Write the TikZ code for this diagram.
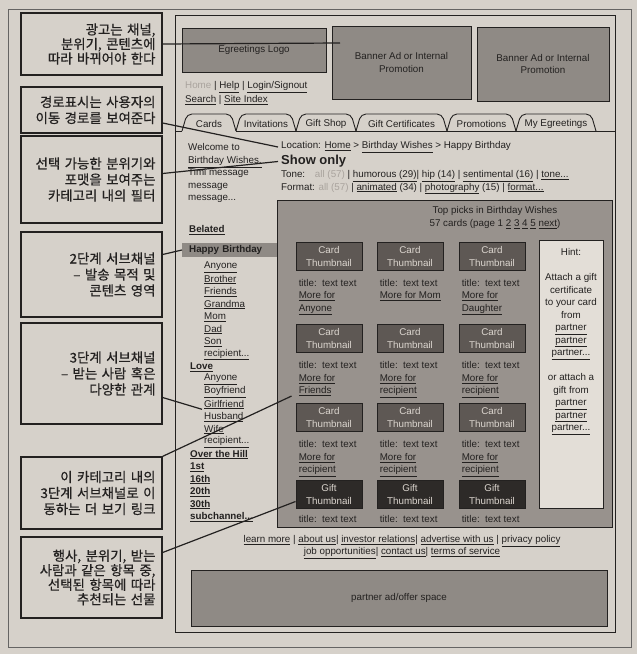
\documentclass[tikz,border=0pt]{standalone}
\usepackage{fontspec}
\setmainfont{Liberation Sans}
\newfontfamily\kr[FakeBold=0.6]{Noto Sans CJK KR}
\usepackage{xcolor}
\definecolor{paper}{HTML}{D6D1CA}
\definecolor{boxgray}{HTML}{8F8A85}
\definecolor{areagray}{HTML}{98928D}
\definecolor{thumbgray}{HTML}{5E5854}
\definecolor{giftgray}{HTML}{2D2A28}
\definecolor{thumbtext}{HTML}{DCD6CF}
\definecolor{hintfill}{HTML}{E3DED7}
\definecolor{ink}{HTML}{232120}
\definecolor{softgray}{HTML}{A9A39D}
\newcommand{\lk}[1]{\underline{#1}}
\newcommand{\mydots}{...}

\begin{document}
\begin{tikzpicture}[x=1pt,y=-1pt,
      every node/.style={text=ink, font=\fontsize{9.8}{12.5}\selectfont},
      txt/.style={inner sep=0pt, anchor=west},
      lines/.style={inner sep=0pt, anchor=north west, align=left},
      hd/.style={font=\fontsize{9.8}{12.5}\selectfont\bfseries},
      callout/.style={draw=ink, line width=1.3pt, fill=paper, align=right,
        minimum width=141pt, text width=128pt, inner xsep=6.5pt,
        font=\kr\fontsize{13.4}{16}\selectfont},
      gbox/.style={draw=ink, line width=0.9pt, fill=boxgray, align=center},
      thumb/.style={draw=ink, line width=0.9pt, fill=thumbgray, text=thumbtext,
        minimum width=66pt, minimum height=28pt, inner sep=0pt, align=center,
        font=\fontsize{9.8}{13}\selectfont},
      tab/.style={draw=ink, line width=0.9pt, rounded corners=5pt},
      conn/.style={draw=ink, line width=1.2pt}]
      \fill[paper] (0,0) rectangle (637,654);
      \useasboundingbox (0,0) rectangle (637,654);
      \draw[ink!70, line width=0.6pt] (8,9) rectangle (631,647);
      \draw[ink, line width=1pt] (175,15) rectangle (615,632);

      % header
      \node[gbox, minimum width=144pt, minimum height=44pt] (logo) at (254,50) {Egreetings Logo};
      \node[gbox, minimum width=139pt, minimum height=73pt] (ban1) at (401.5,62.5) {Banner Ad or Internal\\Promotion};
      \node[gbox, minimum width=132pt, minimum height=74pt] (ban2) at (543,64) {Banner Ad or Internal\\Promotion};
      \coordinate (ban1in) at (340,43);
      \node[txt] (toplinks) at (185,87) {{\color{softgray}Home} | \lk{Help} | \lk{Login/Signout}};
      \node[txt] (sitelinks) at (185,100) {\lk{Search} | \lk{Site Index}};

      % tabs
      \draw[ink, line width=0.9pt] (175,131) -- (182,131) (236,131) -- (615,131);
      \foreach \a/\b/\t [count=\i] in {182/236/Cards,236/296/Invitations,296/356/Gift Shop,
          356/447/Gift Certificates,447/516/Promotions,516/596/My Egreetings}{
        \draw[tab] (\a,131) -- (\a+5,114) -- (\b-5,114) -- (\b,131);
        \node (tab\i) at ({(\a+\b)/2},124) {\t};
      }

      % left column
      \node[lines] (welcome) at (188,143.5) {Welcome to\\\lk{Birthday Wishes.}\\Timi message\\message\\message\mydots};
      \node[txt, hd] (belated) at (189,230) {\lk{Belated}};
      \node[hd, fill=boxgray, anchor=west, align=left, inner xsep=7pt, inner ysep=0pt,
        minimum height=14pt, text width=81pt] (hbirth) at (182,250) {Happy Birthday};
      \foreach \t [count=\i] in {Anyone,Brother,Friends,Grandma,Mom,Dad,Son,recipient\mydots}
        \node[txt] (hb\i) at (204,{267+12.5*(\i-1)}) {\lk{\t}};
      \node[txt, hd] (love) at (190,367) {\lk{Love}};
      \foreach \t [count=\i] in {Anyone,Boyfriend,Girlfriend,Husband,Wife,recipient\mydots}
        \node[txt] (lv\i) at (204,{379.5+12.5*(\i-1)}) {\lk{\t}};
      \node[txt, hd] (hill) at (190,454.5) {\lk{Over the Hill}};
      \foreach \t [count=\i] in {1st,16th,20th,30th,subchannel\mydots}
        \node[txt, hd] (oh\i) at (190,{467+12.5*(\i-1)}) {\lk{\t}};

      % filters
      \node[txt] (loc) at (281,147) {Location: \lk{Home} > \lk{Birthday Wishes} > Happy Birthday};
      \node[txt, font=\fontsize{13}{15}\selectfont\bfseries] (show) at (281,161.5) {Show only};
      \node[txt] (tone) at (281,176) {Tone:\quad{\color{softgray}all (57)} | \lk{humorous (29)}|\ \lk{hip (14)} | \lk{sentimental (16)} | \lk{tone\mydots}};
      \node[txt] (format) at (281,188.5) {Format: {\color{softgray}all (57)} | \lk{animated} (34) | \lk{photography} (15) | \lk{format\mydots}};

      % top picks
      \node[gbox, fill=areagray, minimum width=335pt, minimum height=327pt] (area) at (444.5,363.5) {};
      \node[align=center, inner sep=0pt, font=\fontsize{9.8}{13}\selectfont] (picks) at (495,217.5)
        {Top picks in Birthday Wishes\\57 cards (page 1 \lk{2} \lk{3} \lk{4} \lk{5} \lk{next})};
      \foreach \y [count=\r] in {256,338.5,417.5}
        \foreach \x [count=\c] in {329,410,492}
          \node[thumb] (t\r\c) at (\x,\y) {Card\\Thumbnail};
      \foreach \x [count=\c] in {329,410,492}
        \node[thumb, fill=giftgray] (g\c) at (\x,494.5) {Gift\\Thumbnail};
      \foreach \r/\c/\m in {1/1/Anyone,1/3/Daughter,2/1/Friends,2/2/recipient,2/3/recipient,
          3/1/recipient,3/2/recipient,3/3/recipient}
        \node[lines] (m\r\c) at ([xshift=3pt,yshift=-8.5pt]t\r\c.south west) {title:\ \ text text\\\lk{More for}\\\lk{\m}};
      \node[lines] (m12) at ([xshift=3pt,yshift=-8.5pt]t12.south west) {title:\ \ text text\\\lk{More for Mom}};
      \foreach \c in {1,2,3}
        \node[lines] (gt\c) at ([xshift=3pt,yshift=-6.5pt]g\c.south west) {title:\ \ text text};
      \node[draw=ink, line width=0.9pt, fill=hintfill, minimum width=64pt, minimum height=268pt] (hint) at (571,374) {};
      \node[align=center, inner sep=0pt, anchor=north] (hinttext) at (571,248.4)
        {Hint:\\[12.5pt]Attach a gift\\certificate\\to your card\\from\\\lk{partner}\\\lk{partner}\\\lk{partner\mydots}\\[12.5pt]or attach a\\gift from\\\lk{partner}\\\lk{partner}\\\lk{partner\mydots}};

      % footer
      \node[align=center, inner sep=0pt] (footer) at (402,547)
        {\lk{learn more} | \lk{about us}| \lk{investor relations}| \lk{advertise with us} | \lk{privacy policy}\\\lk{job opportunities}| \lk{contact us}| \lk{terms of service}};
      \node[gbox, minimum width=416pt, minimum height=56pt] (partner) at (399,598) {partner ad/offer space};

      % callouts
      \node[callout, minimum height=62pt, font=\kr\fontsize{13.4}{14.5}\selectfont] (c1) at (91.5,44) {광고는 채널,\\분위기, 콘텐츠에\\따라 바뀌어야 한다};
      \node[callout, minimum height=46pt] (c2) at (91.5,110) {경로표시는 사용자의\\이동 경로를 보여준다};
      \node[callout, minimum height=87pt] (c3) at (91.5,179.5) {선택 가능한 분위기와\\포맷을 보여주는\\카테고리 내의 필터};
      \node[callout, minimum height=85pt] (c4) at (91.5,274.5) {2단계 서브채널\\– 발송 목적 및\\콘텐츠 영역};
      \node[callout, minimum height=101pt] (c5) at (91.5,373.5) {3단계 서브채널\\– 받는 사람 혹은\\다양한 관계};
      \node[callout, minimum height=72pt] (c6) at (91.5,493) {이 카테고리 내의\\3단계 서브채널로 이\\동하는 더 보기 링크};
      \node[callout, minimum height=81pt, font=\kr\fontsize{13.4}{14.5}\selectfont] (c7) at (91.5,577.5) {행사, 분위기, 받는\\사람과 같은 항목 중,\\선택된 항목에 따라\\추천되는 선물};

      \draw[conn] (c1.east) -- (ban1in);
      \draw[conn] ([yshift=-13pt]c2.east) -- ([xshift=-3pt]loc.west);
      \draw[conn] ([yshift=6pt]c3.east) -- ([xshift=-3pt]show.west);
      \draw[conn] ([yshift=20pt]c4.east) -- (hbirth.west);
      \draw[conn] ([yshift=-24pt]c5.east) -- ([xshift=-2pt]lv3.south west);
      \draw[conn] (c6.north east) -- ([xshift=-7pt]m21.south west);
      \draw[conn] ([yshift=25pt]c7.east) -- ([yshift=-7pt]g1.west);
    \end{tikzpicture}
\end{document}
